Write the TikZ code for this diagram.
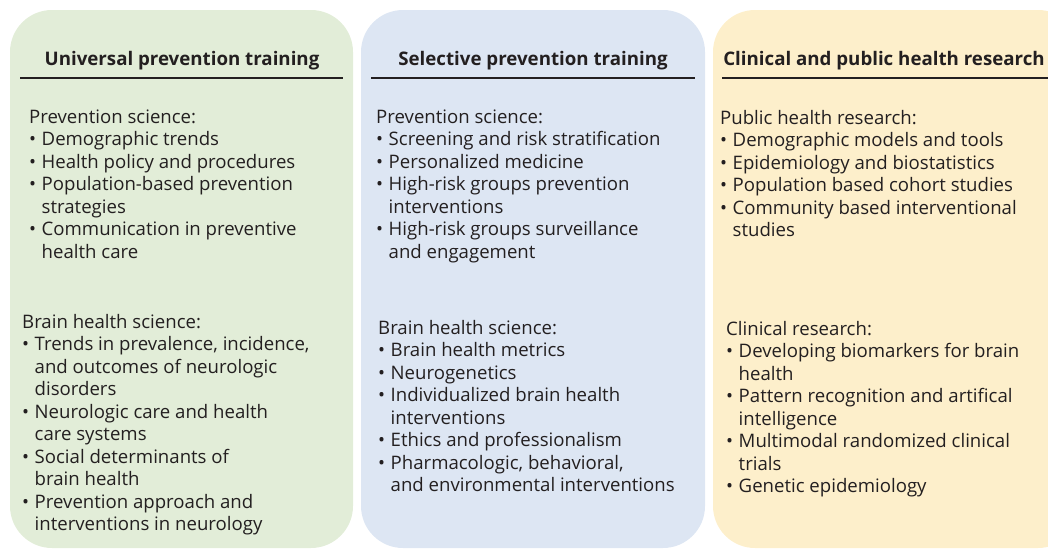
\documentclass[tikz,border=0pt]{standalone}
\usepackage{fontspec}
\setmainfont{Open Sans}
\usepackage{xcolor}

\definecolor{univgreen}{HTML}{E2EDD8}
\definecolor{selblue}{HTML}{DDE6F3}
\definecolor{resyellow}{HTML}{FDEFCB}
\definecolor{inkgray}{HTML}{231F20}

% first line strut, bullet item and continuation line
\newcommand{\topline}{\rule{0pt}{15pt}}
\newcommand{\bul}[1]{\makebox[12.5pt][l]{•}#1}
\newcommand{\cont}[1]{\hspace*{12.5pt}#1}

\tikzset{
  panel/.style={rounded corners=42pt},
  paneltitle/.style={font=\bfseries\fontsize{18.7}{22}\selectfont, text=inkgray, anchor=base, inner sep=0pt},
  listtext/.style={font=\fontsize{18.6}{22.5}\selectfont, text=inkgray, align=left, anchor=north west, inner sep=0pt},
  titlerule/.style={line width=1.2pt, draw=inkgray}
}

\begin{document}
\begin{tikzpicture}[x=1pt,y=-1pt]
        \useasboundingbox (0,0) rectangle (1048,549);

        % Universal prevention training
        \begin{scope}
            \fill[univgreen, panel] (10,10) rectangle (353,548);
            \node[paneltitle] (univtitle) at (182,65) {Universal prevention training};
            \draw[titlerule] (20,78) -- (343,78);
            \node[listtext] (univprev) at (29,108) {\topline Prevention science:\\
                \bul{Demographic trends}\\
                \bul{Health policy and procedures}\\
                \bul{Population-based prevention}\\
                \cont{strategies}\\
                \bul{Communication in preventive}\\
                \cont{health care}};
            \node[listtext] (univbrain) at (22,313) {\topline Brain health science:\\
                \bul{Trends in prevalence, incidence,}\\
                \cont{and outcomes of neurologic}\\
                \cont{disorders}\\
                \bul{Neurologic care and health}\\
                \cont{care systems}\\
                \bul{Social determinants of}\\
                \cont{brain health}\\
                \bul{Prevention approach and}\\
                \cont{interventions in neurology}};
        \end{scope}

        % Selective prevention training
        \begin{scope}
            \fill[selblue, panel] (361,10) rectangle (705,548);
            \node[paneltitle] (seltitle) at (533,65) {Selective prevention training};
            \draw[titlerule] (371,78) -- (695,78);
            \node[listtext] (selprev) at (376,108) {\topline Prevention science:\\
                \bul{Screening and risk stratification}\\
                \bul{Personalized medicine}\\
                \bul{High-risk groups prevention}\\
                \cont{interventions}\\
                \bul{High-risk groups surveillance}\\
                \cont{and engagement}};
            \node[listtext] (selbrain) at (378,319) {\topline Brain health science:\\
                \bul{Brain health metrics}\\
                \bul{Neurogenetics}\\
                \bul{Individualized brain health}\\
                \cont{interventions}\\
                \bul{Ethics and professionalism}\\
                \bul{Pharmacologic, behavioral,}\\
                \cont{and environmental interventions}};
        \end{scope}

        % Clinical and public health research
        \begin{scope}
            \fill[resyellow, panel] (713,10) rectangle (1080,548);
            \node[paneltitle] (restitle) at (884,65) {Clinical and public health research};
            \draw[titlerule] (722,78) -- (1048,78);
            \node[listtext] (respublic) at (720,109) {\topline Public health research:\\
                \bul{Demographic models and tools}\\
                \bul{Epidemiology and biostatistics}\\
                \bul{Population based cohort studies}\\
                \bul{Community based interventional}\\
                \cont{studies}};
            \node[listtext] (resclinic) at (726,320) {\topline Clinical research:\\
                \bul{Developing biomarkers for brain}\\
                \cont{health}\\
                \bul{Pattern recognition and artifical}\\
                \cont{intelligence}\\
                \bul{Multimodal randomized clinical}\\
                \cont{trials}\\
                \bul{Genetic epidemiology}};
        \end{scope}
    \end{tikzpicture}
\end{document}
